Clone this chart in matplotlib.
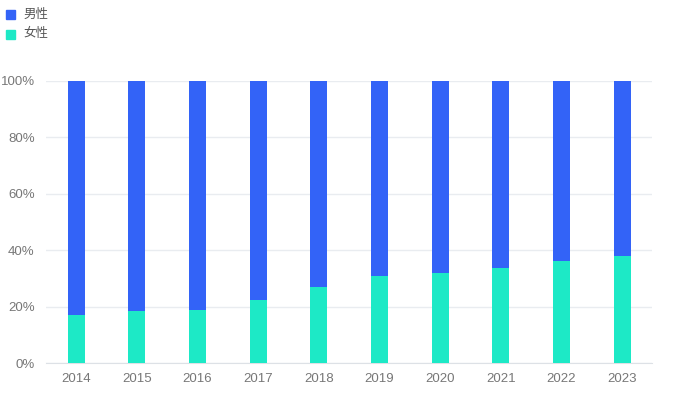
import matplotlib.pyplot as plt
from matplotlib.patches import Rectangle

plt.rcParams['font.family'] = ['Noto Sans CJK SC', 'DejaVu Sans']

years = ['2014', '2015', '2016', '2017', '2018', '2019', '2020', '2021', '2022', '2023']
female = [17.2, 18.5, 18.8, 22.4, 27.0, 30.8, 32.0, 33.6, 36.4, 38.0]
male = [100 - f for f in female]

blue = '#3363f7'
teal = '#1de9c6'

fig = plt.figure(figsize=(6.76, 3.96), dpi=100)
ax = fig.add_axes([0.0676, 0.0826, 0.8974, 0.7129])

x = range(len(years))
ax.bar(x, female, width=0.28, color=teal, zorder=3)
ax.bar(x, male, width=0.28, bottom=female, color=blue, zorder=3)

ax.set_xlim(-0.5, len(years) - 0.5)
ax.set_ylim(0, 100)
ax.set_yticks([0, 20, 40, 60, 80, 100])
ax.set_yticklabels(['0%', '20%', '40%', '60%', '80%', '100%'])
ax.set_xticks(list(x))
ax.set_xticklabels(years)
ax.tick_params(length=0, colors='#777777', labelsize=9.5)
ax.tick_params(axis='y', pad=8)
ax.tick_params(axis='x', pad=7)
for lab in ax.get_xticklabels() + ax.get_yticklabels():
    lab.set_family('Liberation Sans')
ax.grid(axis='y', color='#e9ecf0', linewidth=1, zorder=0)
for s in ['top', 'right', 'left']:
    ax.spines[s].set_visible(False)
ax.spines['bottom'].set_color('#dde1e6')

# legend in the top left corner
for i, (name, c) in enumerate([('男性', blue), ('女性', teal)]):
    y = 1 - (14 + 20 * i) / 396
    fig.patches.append(Rectangle((6 / 676, y - 4.5 / 396), 9 / 676, 9 / 396,
                                 transform=fig.transFigure, color=c))
    fig.text(23 / 676, y, name, fontsize=9, color='#555555', va='center')

fig.savefig('out.png')
